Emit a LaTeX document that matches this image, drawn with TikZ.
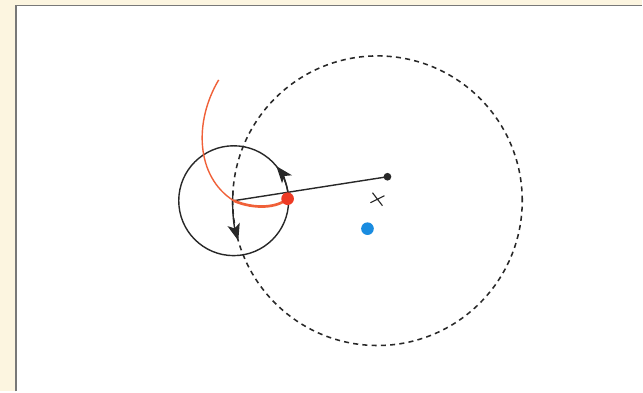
\documentclass[tikz,border=0pt]{standalone}
\usepackage{tikz}
\usetikzlibrary{arrows.meta,calc}
\definecolor{paperCream}{RGB}{252,245,224}
\definecolor{frameGray}{RGB}{120,120,120}
\definecolor{pathRed}{RGB}{240,96,56}
\definecolor{dotRed}{RGB}{238,58,36}
\definecolor{dotBlue}{RGB}{26,140,224}
\definecolor{inkBlack}{RGB}{40,40,40}

\begin{document}
\begin{tikzpicture}[
  x=0.025cm, y=0.025cm,
  orbit/.style={draw=inkBlack, line width=1pt},
  bigorbit/.style={draw=inkBlack, line width=1.1pt, dash pattern=on 3.6pt off 3pt},
  spin/.style={inkBlack, line width=1pt, -{Stealth[length=12pt,width=9pt,inset=3pt]}},
  dot/.style={circle, inner sep=0pt, minimum size=#1, fill}
]
  % frame
  \fill[paperCream] (0,0) rectangle (643,392);
  \fill[white] (15,0) rectangle (643,387);
  \draw[frameGray, line width=1.3pt] (16,0) -- (16,386.5) -- (643,386.5);
  \useasboundingbox (0,0) rectangle (643,392);

  \coordinate (centre) at (378,191);
  \coordinate (hub) at (234,191);

  % large and small circles
  \draw[bigorbit] (centre) circle (145);
  \draw[orbit] (hub) circle (55);
  \draw[spin] ($(hub)+(10:55)$) arc (10:39:55);
  \draw[spin] ($(centre)+(176:145)$) arc (176:196:145);

  % arm
  \node[dot=5.5pt, inkBlack] (tip) at (388,215) {};
  \draw[inkBlack, line width=1pt] (hub) -- (tip.center);

  % trace
  \draw[pathRed, line width=1pt] (219,312)
    .. controls (194,270) and (196,215) .. (hub);
  \draw[pathRed, line width=1.9pt] (hub)
    .. controls (255,182) and (278,184) .. (288,193);
  \node[dot=9pt, dotRed] (ball) at (288,193) {};
  \node[dot=9pt, dotBlue] (mass) at (368,163) {};

  % centre mark
  \draw[inkBlack, line width=0.8pt] (373,199) -- (383,186) (371,189) -- (385,196);
\end{tikzpicture}
\end{document}
